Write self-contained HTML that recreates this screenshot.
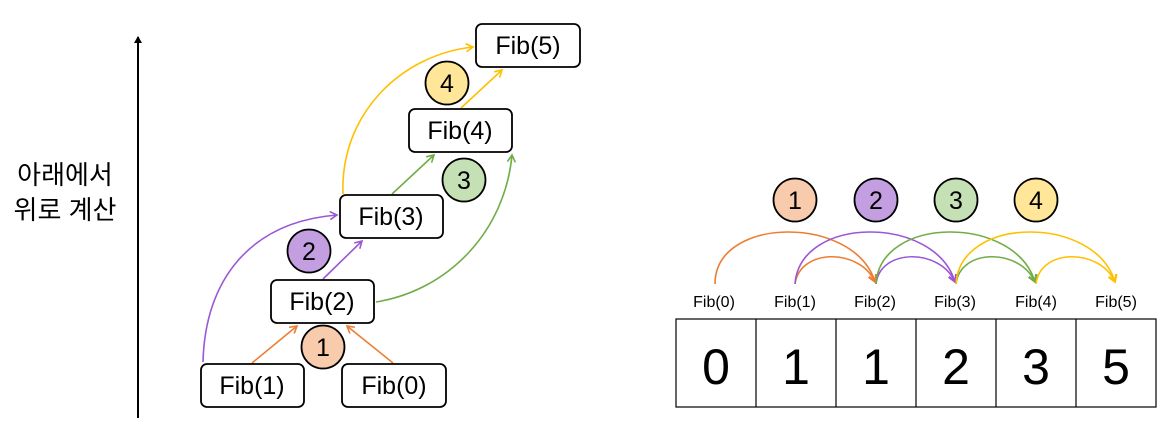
<!DOCTYPE html>
<html><head><meta charset="utf-8"><style>
body{margin:0;background:#fff;width:1174px;height:443px;overflow:hidden}
</style></head><body>
<svg width="1174" height="443" viewBox="0 0 1174 443" xmlns="http://www.w3.org/2000/svg" font-family="Liberation Sans, Noto Sans CJK KR, sans-serif">
<defs>
<marker id="ao" markerWidth="10" markerHeight="10" refX="8" refY="5" orient="auto" markerUnits="userSpaceOnUse"><path d="M1,1 L8,5 L1,9" fill="none" stroke="#ED7D31" stroke-width="1.6"/></marker>
<marker id="ap" markerWidth="10" markerHeight="10" refX="8" refY="5" orient="auto" markerUnits="userSpaceOnUse"><path d="M1,1 L8,5 L1,9" fill="none" stroke="#9A57D6" stroke-width="1.6"/></marker>
<marker id="ag" markerWidth="10" markerHeight="10" refX="8" refY="5" orient="auto" markerUnits="userSpaceOnUse"><path d="M1,1 L8,5 L1,9" fill="none" stroke="#70AD47" stroke-width="1.6"/></marker>
<marker id="ay" markerWidth="10" markerHeight="10" refX="8" refY="5" orient="auto" markerUnits="userSpaceOnUse"><path d="M1,1 L8,5 L1,9" fill="none" stroke="#FFC000" stroke-width="1.6"/></marker>
<marker id="ak" markerWidth="10" markerHeight="10" refX="6" refY="5" orient="auto" markerUnits="userSpaceOnUse"><path d="M0,1 L7,5 L0,9 Z" fill="#000"/></marker>
</defs>
<line x1="138" y1="418" x2="138" y2="37" stroke="#000" stroke-width="2" marker-end="url(#ak)"/>
<text x="65" y="184" font-size="26" text-anchor="middle">아래에서</text>
<text x="65" y="219" font-size="26" text-anchor="middle">위로 계산</text>

<g fill="none" stroke-width="1.6">
<path d="M252,363 L297,326" stroke="#ED7D31" marker-end="url(#ao)"/>
<path d="M393,363 L347,326" stroke="#ED7D31" marker-end="url(#ao)"/>
<path d="M323,279 L362,241" stroke="#9A57D6" marker-end="url(#ap)"/>
<path d="M203,362 C205,280 250,222 337,215" stroke="#9A57D6" marker-end="url(#ap)"/>
<path d="M392,194 L434,155" stroke="#70AD47" marker-end="url(#ag)"/>
<path d="M376,302 C450,290 505,230 512,155" stroke="#70AD47" marker-end="url(#ag)"/>
<path d="M461,108 L502,70" stroke="#FFC000" marker-end="url(#ay)"/>
<path d="M343,194 C340,115 400,55 473,47" stroke="#FFC000" marker-end="url(#ay)"/>
</g>
<g fill="#fff" stroke="#000" stroke-width="1.8">
<rect x="476" y="24" width="104" height="43" rx="6"/>
<rect x="409" y="109" width="103" height="43" rx="6"/>
<rect x="340" y="195" width="103" height="43" rx="6"/>
<rect x="271" y="280" width="103" height="43" rx="6"/>
<rect x="201" y="364" width="103" height="43" rx="6"/>
<rect x="342" y="364" width="104" height="43" rx="6"/>
</g>
<g font-size="25" text-anchor="middle">
<text x="528" y="54">Fib(5)</text>
<text x="460" y="139">Fib(4)</text>
<text x="391" y="225">Fib(3)</text>
<text x="322" y="310">Fib(2)</text>
<text x="252" y="394">Fib(1)</text>
<text x="394" y="394">Fib(0)</text>
</g>
<g stroke="#000" stroke-width="1.8">
<circle cx="323" cy="347" r="21.5" fill="#F8CBAD"/>
<circle cx="309" cy="251" r="21.5" fill="#C39FE2"/>
<circle cx="464" cy="180" r="21.5" fill="#C5E0B4"/>
<circle cx="447" cy="83" r="21.5" fill="#FFE699"/>
<circle cx="795" cy="200" r="21.5" fill="#F8CBAD"/>
<circle cx="876" cy="200" r="21.5" fill="#C39FE2"/>
<circle cx="956" cy="200" r="21.5" fill="#C5E0B4"/>
<circle cx="1036" cy="200" r="21.5" fill="#FFE699"/>
</g>
<g font-size="25" text-anchor="middle">
<text x="323" y="356">1</text><text x="309" y="260">2</text><text x="464" y="189">3</text><text x="447" y="92">4</text>
<text x="795" y="209">1</text><text x="876" y="209">2</text><text x="956" y="209">3</text><text x="1036" y="209">4</text>
</g>
<g fill="none" stroke-width="1.6">
<path d="M715,284 C715,215 855,215 875,282" stroke="#ED7D31" marker-end="url(#ao)"/>
<path d="M795,284 C800,248 860,248 875,282" stroke="#ED7D31" marker-end="url(#ao)"/>
<path d="M795,284 C800,215 935,215 955,282" stroke="#9A57D6" marker-end="url(#ap)"/>
<path d="M876,284 C880,248 940,248 955,282" stroke="#9A57D6" marker-end="url(#ap)"/>
<path d="M876,284 C880,215 1015,215 1035,282" stroke="#70AD47" marker-end="url(#ag)"/>
<path d="M956,284 C960,248 1020,248 1035,282" stroke="#70AD47" marker-end="url(#ag)"/>
<path d="M956,284 C960,215 1095,215 1115,282" stroke="#FFC000" marker-end="url(#ay)"/>
<path d="M1036,284 C1040,248 1100,248 1115,282" stroke="#FFC000" marker-end="url(#ay)"/>
</g>
<g font-size="16" text-anchor="middle">
<text x="714" y="307">Fib(0)</text><text x="795" y="307">Fib(1)</text><text x="875" y="307">Fib(2)</text>
<text x="955" y="307">Fib(3)</text><text x="1036" y="307">Fib(4)</text><text x="1116" y="307">Fib(5)</text>
</g>
<g fill="none" stroke="#000" stroke-width="1.2">
<rect x="676" y="319" width="480" height="88"/>
<line x1="756" y1="319" x2="756" y2="407"/><line x1="836" y1="319" x2="836" y2="407"/>
<line x1="916" y1="319" x2="916" y2="407"/><line x1="996" y1="319" x2="996" y2="407"/>
<line x1="1076" y1="319" x2="1076" y2="407"/>
</g>
<g font-size="50" text-anchor="middle">
<text x="716" y="384">0</text><text x="796" y="384">1</text><text x="876" y="384">1</text>
<text x="956" y="384">2</text><text x="1036" y="384">3</text><text x="1116" y="384">5</text>
</g>
</svg>
</body></html>
